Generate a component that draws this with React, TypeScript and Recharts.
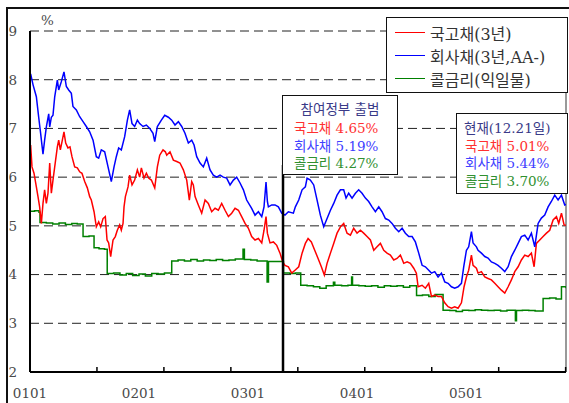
import React from "react";
import { LineChart, Line, XAxis, YAxis, CartesianGrid, ReferenceLine } from "recharts";

// x = months since Jan 2001 (axis position), y = rate in %
const yearLabels = ["0101", "0201", "0301", "0401", "0501"];
const yearTicks = [0, 12, 24, 36, 48];
const minorTicks = [0, 7.37, 14.74, 22.11, 29.48, 36.85, 44.22, 51.59, 58.96];
const yTicks = [2, 3, 4, 5, 6, 7, 8, 9];
const inauguration = 27.85;

const seriesNames = ["국고채(3년)", "회사채(3년,AA-)", "콜금리(익일물)"];
const seriesColors = ["#ff0000", "#0000ff", "#008000"];

const boxInaugTitle = "참여정부 출범";
const boxInaugRows = ["국고채 4.65%", "회사채 5.19%", "콜금리 4.27%"];
const boxNowTitle = "현재(12.21일)";
const boxNowRows = ["국고채 5.01%", "회사채 5.44%", "콜금리 3.70%"];
const textColors = ["#ff3030", "#4040ff", "#309030"];

const govBond: [number, number][] = [
  [0.07, 6.66], [0.22, 6.21], [0.44, 6.08], [0.7, 5.8], [0.88, 5.6], [1.06, 5.39], [1.25, 5.05], [1.43, 5.46],
  [1.61, 5.74], [1.8, 5.46], [1.98, 5.67], [2.17, 6.29], [2.35, 5.67], [2.53, 5.94], [2.72, 6.21], [3.01, 6.62],
  [3.16, 6.76], [3.34, 6.56], [3.56, 6.76], [3.74, 6.93], [3.93, 6.7], [4.18, 6.6], [4.4, 6.62], [4.62, 6.42],
  [4.92, 6.21], [5.21, 6.19], [5.47, 6.11], [5.72, 6.08], [6.02, 5.91], [6.31, 5.78], [6.57, 5.6], [6.75, 5.53],
  [7.05, 5.29], [7.3, 4.98], [7.56, 5.08], [7.78, 4.98], [8.04, 5.15], [8.29, 5.19], [8.48, 4.71], [8.66, 4.65],
  [8.88, 4.37], [9.14, 4.71], [9.39, 4.78], [9.61, 4.91], [9.87, 5.02], [10.05, 4.91], [10.24, 5.05], [10.35, 5.39],
  [10.5, 5.6], [10.79, 5.8], [10.97, 6.04], [11.23, 5.84], [11.52, 5.94], [11.82, 6.15], [12.07, 6.0], [12.26, 6.19],
  [12.55, 5.98], [12.81, 6.08], [13.06, 5.98], [13.36, 5.94], [13.73, 5.78], [14.02, 6.21], [14.28, 6.45], [14.64, 6.56],
  [14.9, 6.52], [15.05, 6.45], [15.41, 6.52], [15.78, 6.35], [16.15, 6.32], [16.51, 6.29], [16.88, 6.15], [17.25, 5.94],
  [17.54, 5.53], [17.8, 5.91], [17.98, 5.84], [18.17, 5.6], [18.53, 5.43], [18.9, 5.26], [19.27, 5.53], [19.63, 5.46],
  [20.0, 5.29], [20.37, 5.36], [20.73, 5.32], [21.1, 5.46], [21.47, 5.32], [21.84, 5.19], [22.2, 5.26], [22.57, 5.36],
  [22.94, 5.32], [23.3, 5.19], [23.67, 5.05], [24.04, 4.95], [24.4, 4.78], [24.77, 4.71], [25.14, 4.74], [25.51, 4.65],
  [25.76, 4.91], [25.98, 5.19], [26.13, 4.85], [26.42, 4.65], [26.79, 4.67], [27.16, 4.6], [27.52, 4.44], [27.82, 4.26],
  [28.07, 4.19], [28.44, 4.16], [28.81, 4.03], [29.17, 4.09], [29.58, 4.16], [29.95, 4.44], [30.31, 4.64], [30.61, 4.74],
  [30.97, 4.67], [31.34, 4.5], [31.71, 4.33], [32.07, 4.16], [32.4, 3.99], [32.7, 4.23], [33.07, 4.44], [33.43, 4.64],
  [33.8, 4.85], [34.17, 4.98], [34.53, 5.05], [34.9, 4.85], [35.27, 4.81], [35.63, 4.95], [36.0, 4.85], [36.37, 4.91],
  [36.73, 4.85], [37.1, 4.78], [37.47, 4.71], [37.84, 4.5], [38.2, 4.57], [38.57, 4.64], [38.94, 4.5], [39.3, 4.44],
  [39.67, 4.4], [40.04, 4.3], [40.4, 4.33], [40.77, 4.4], [41.14, 4.23], [41.51, 4.26], [41.87, 4.23], [42.24, 4.13],
  [42.53, 4.03], [42.72, 3.75], [43.16, 3.78], [43.52, 3.72], [43.89, 3.82], [44.19, 3.55], [44.55, 3.58], [44.92, 3.55],
  [45.29, 3.55], [45.65, 3.42], [46.02, 3.34], [46.39, 3.31], [46.75, 3.34], [47.12, 3.31], [47.49, 3.42], [47.78, 3.75],
  [48.04, 3.95], [48.29, 4.09], [48.59, 4.4], [48.77, 4.19], [49.14, 4.13], [49.32, 4.03], [49.69, 4.06], [50.06, 3.95],
  [50.42, 3.92], [50.79, 3.89], [51.16, 3.82], [51.52, 3.75], [51.89, 3.68], [52.26, 3.62], [52.63, 3.75], [52.99, 3.89],
  [53.36, 4.06], [53.73, 4.16], [54.09, 4.3], [54.46, 4.4], [54.83, 4.37], [55.19, 4.44], [55.49, 4.16], [55.74, 4.64],
  [56.11, 4.71], [56.48, 4.78], [56.85, 4.85], [57.21, 4.91], [57.58, 5.12], [57.95, 5.19], [58.2, 5.05], [58.5, 5.26],
  [58.79, 5.02], [59.0, 5.01],
];

const corpBond: [number, number][] = [
  [0.07, 8.12], [0.33, 7.9], [0.7, 7.65], [0.95, 7.24], [1.17, 6.9], [1.43, 6.47], [1.61, 6.76], [1.8, 7.03],
  [2.06, 7.3], [2.17, 7.03], [2.35, 7.23], [2.53, 7.27], [2.72, 7.65], [3.01, 7.99], [3.16, 7.79], [3.45, 7.96],
  [3.74, 8.16], [4.0, 7.86], [4.26, 7.79], [4.55, 7.72], [4.73, 7.45], [5.1, 7.38], [5.47, 7.24], [5.84, 7.14],
  [6.2, 7.04], [6.57, 6.93], [6.94, 6.76], [7.3, 6.42], [7.56, 6.39], [7.85, 6.56], [8.22, 6.52], [8.59, 6.21],
  [8.95, 5.91], [9.25, 6.21], [9.5, 6.42], [9.76, 6.6], [10.05, 6.56], [10.42, 6.83], [10.72, 7.17], [10.97, 7.38],
  [11.23, 7.1], [11.52, 7.04], [11.82, 7.17], [12.07, 7.1], [12.44, 7.04], [12.81, 7.07], [13.18, 7.0], [13.54, 6.9],
  [13.73, 6.73], [14.02, 7.04], [14.46, 7.17], [14.83, 7.27], [15.23, 7.23], [15.6, 7.17], [15.96, 7.07], [16.33, 7.14],
  [16.7, 7.04], [17.06, 6.9], [17.43, 6.7], [17.8, 6.76], [18.06, 6.66], [18.35, 6.42], [18.72, 6.29], [19.08, 6.21],
  [19.45, 6.39], [19.82, 6.15], [20.18, 6.04], [20.55, 6.0], [20.92, 6.04], [21.28, 6.0], [21.65, 5.98], [22.02, 5.84],
  [22.39, 5.94], [22.75, 6.0], [23.12, 5.88], [23.49, 5.74], [23.85, 5.53], [24.4, 5.36], [24.77, 5.22], [25.14, 5.29],
  [25.51, 5.19], [25.76, 5.39], [25.98, 5.9], [26.13, 5.5], [26.24, 5.39], [26.61, 5.43], [26.97, 5.43], [27.34, 5.39],
  [27.71, 5.26], [28.07, 5.22], [28.44, 5.29], [28.99, 5.26], [29.21, 5.39], [29.58, 5.53], [29.95, 5.74], [30.31, 5.8],
  [30.5, 5.98], [30.86, 5.94], [31.23, 5.84], [31.6, 5.53], [31.96, 5.22], [32.33, 4.98], [32.7, 5.15], [33.07, 5.32],
  [33.43, 5.46], [33.8, 5.63], [34.17, 5.74], [34.53, 5.74], [34.79, 5.57], [35.08, 5.67], [35.45, 5.57], [35.82, 5.67],
  [36.18, 5.74], [36.55, 5.67], [36.92, 5.57], [37.28, 5.5], [37.65, 5.39], [38.02, 5.29], [38.39, 5.39], [38.75, 5.29],
  [39.12, 5.15], [39.49, 5.12], [39.85, 5.05], [40.22, 4.95], [40.59, 4.88], [40.96, 4.95], [41.32, 4.85], [41.69, 4.78],
  [42.06, 4.78], [42.42, 4.67], [42.79, 4.44], [43.16, 4.19], [43.52, 4.16], [43.89, 4.09], [44.19, 4.03], [44.55, 4.06],
  [44.92, 3.95], [45.29, 4.03], [45.65, 3.85], [46.02, 3.82], [46.39, 3.75], [46.75, 3.72], [47.12, 3.75], [47.49, 3.82],
  [47.74, 4.16], [48.04, 4.5], [48.29, 4.57], [48.59, 4.88], [48.77, 4.65], [49.14, 4.57], [49.32, 4.5], [49.69, 4.44],
  [50.06, 4.37], [50.42, 4.34], [50.79, 4.26], [51.16, 4.23], [51.52, 4.19], [51.89, 4.13], [52.26, 4.06], [52.63, 4.16],
  [52.99, 4.37], [53.36, 4.5], [53.73, 4.64], [54.09, 4.78], [54.46, 4.81], [54.83, 4.71], [55.19, 4.85], [55.56, 4.57],
  [55.93, 5.05], [56.29, 5.16], [56.66, 5.22], [57.03, 5.39], [57.39, 5.5], [57.76, 5.63], [58.13, 5.53], [58.5, 5.63],
  [58.86, 5.43], [59.0, 5.44],
];

const callRate: [number, number][] = [
  [0.07, 5.3], [0.5, 5.31], [0.99, 5.28], [1.1, 5.07], [1.8, 5.06], [2.5, 5.04], [3.2, 5.06], [3.9, 5.03],
  [4.6, 5.05], [5.2, 5.04], [5.84, 4.78], [6.5, 4.79], [7.05, 4.55], [7.6, 4.53], [8.2, 4.52], [8.5, 4.02],
  [9.2, 4.03], [9.9, 3.99], [10.6, 4.02], [11.3, 3.98], [12.0, 4.01], [12.7, 3.97], [13.4, 4.02], [14.1, 4.01],
  [14.8, 4.03], [15.6, 4.28], [16.3, 4.3], [17.0, 4.28], [17.7, 4.31], [18.4, 4.28], [19.1, 4.3], [19.8, 4.29],
  [20.5, 4.31], [21.2, 4.29], [21.9, 4.3], [22.6, 4.32], [23.45, 4.52], [23.6, 4.31], [24.3, 4.3], [25.0, 4.28],
  [25.7, 4.28], [26.1, 3.85], [26.25, 4.27], [27.0, 4.27], [27.9, 4.03], [28.6, 4.02], [29.2, 4.03], [29.8, 3.78],
  [30.5, 3.77], [31.2, 3.75], [31.9, 3.72], [32.6, 3.77], [33.4, 3.84], [33.55, 3.78], [34.3, 3.77], [35.0, 3.78],
  [35.4, 3.95], [35.5, 3.78], [36.2, 3.77], [36.9, 3.76], [37.6, 3.77], [38.3, 3.74], [39.0, 3.77], [39.7, 3.76],
  [40.4, 3.77], [41.1, 3.74], [41.8, 3.77], [42.55, 3.57], [43.2, 3.58], [43.9, 3.55], [44.6, 3.59], [45.47, 3.27],
  [46.2, 3.26], [46.9, 3.24], [47.6, 3.27], [48.3, 3.26], [49.0, 3.28], [49.7, 3.27], [50.4, 3.26], [51.1, 3.27],
  [51.8, 3.25], [52.5, 3.27], [53.43, 3.05], [53.55, 3.26], [54.2, 3.27], [54.9, 3.26], [55.6, 3.25], [56.48, 3.51],
  [57.2, 3.52], [57.9, 3.5], [58.5, 3.75], [59.0, 3.72],
];

const toRows = (pairs: [number, number][]) => pairs.map(([t, v]) => ({ t, v }));
const allXTicks = Array.from(new Set([...minorTicks, ...yearTicks])).sort((a, b) => a - b);

const FONT = "'DejaVu Serif', 'Noto Sans CJK KR', serif";

const XTick = (props: any) => {
  const { x, y, payload } = props;
  const v = payload.value;
  const idx = yearTicks.indexOf(v);
  const isMinor = minorTicks.includes(v);
  return (
    <g>
      {isMinor && <line x1={x} x2={x} y1={y - 16} y2={y - 21} stroke="#000" strokeWidth={1.5} />}
      {idx >= 0 && (
        <text x={x} y={y} dy="0.71em" textAnchor="middle" fontFamily={FONT} fontSize={13.5} fill="#4a4a4a">
          {yearLabels[idx]}
        </text>
      )}
    </g>
  );
};

const boxStyle: React.CSSProperties = {
  position: "absolute",
  background: "#fff",
  border: "1.5px solid #111",
  boxSizing: "border-box",
};

export default function App() {
  return (
    <div style={{ position: "fixed", left: 0, top: 0, width: 569, height: 403, overflow: "hidden", background: "#fff" }}>
      <div style={{ position: "absolute", left: 6, top: 7, width: 700, height: 500, borderLeft: "2px solid #111", borderTop: "2px solid #111" }} />
      <div style={{ position: "absolute", left: 0, top: 0 }}>
        <LineChart width={569} height={403} margin={{ top: 31, right: 3, bottom: 0, left: 0 }}>
          <CartesianGrid xAxisId="main" horizontal vertical={false} stroke="#222" strokeDasharray="9 5" />
          <XAxis
            xAxisId="main"
            dataKey="t"
            type="number"
            domain={[0, 59]}
            ticks={allXTicks}
            interval={0}
            allowDataOverflow
            height={31}
            tickSize={0}
            tickMargin={16}
            tickLine={false}
            axisLine={{ stroke: "#000", strokeWidth: 2 }}
            tick={<XTick />}
          />
          <YAxis
            type="number"
            domain={[2, 9]}
            ticks={yTicks}
            interval={0}
            width={30}
            tickSize={0}
            tickMargin={13}
            tickLine={false}
            axisLine={{ stroke: "#000", strokeWidth: 2 }}
            tick={{ fontFamily: FONT, fontSize: 13.5, fill: "#4a4a4a" }}
          />
          <ReferenceLine xAxisId="main" x={59} stroke="#777" strokeWidth={1.5} />
          <Line xAxisId="main" data={toRows(callRate)} dataKey="v" type="stepAfter" stroke={seriesColors[2]} strokeWidth={1.5} dot={false} isAnimationActive={false} />
          <Line xAxisId="main" data={toRows(govBond)} dataKey="v" type="linear" stroke={seriesColors[0]} strokeWidth={1.5} dot={false} isAnimationActive={false} />
          <Line xAxisId="main" data={toRows(corpBond)} dataKey="v" type="linear" stroke={seriesColors[1]} strokeWidth={1.5} dot={false} isAnimationActive={false} />
          <ReferenceLine
            xAxisId="main"
            segment={[{ x: inauguration, y: 2 }, { x: inauguration, y: 6.25 }]}
            stroke="#000"
            strokeWidth={2.5}
          />
        </LineChart>
      </div>

      <div style={{ position: "absolute", left: 41, top: 12, fontFamily: FONT, fontSize: 13.5, color: "#4a4a4a" }}>%</div>

      {/* legend */}
      <div style={{ ...boxStyle, left: 386, top: 17, width: 182, height: 76 }}>
        {seriesNames.map((name, i) => (
          <div key={name} style={{ position: "absolute", left: 0, top: 3 + i * 23, height: 23, display: "flex", alignItems: "center" }}>
            <div style={{ marginLeft: 8, width: 30, height: 1.5, background: seriesColors[i] }} />
            <span style={{ marginLeft: 5, fontFamily: FONT, fontSize: 16, color: "#333", whiteSpace: "nowrap" }}>{name}</span>
          </div>
        ))}
      </div>

      {/* inauguration box */}
      <div style={{ ...boxStyle, left: 282, top: 95, width: 116, height: 80 }}>
        <div style={{ position: "absolute", left: 0, width: "100%", top: 2, textAlign: "center", fontFamily: FONT, fontSize: 13.5, color: "#3a3a88", whiteSpace: "nowrap" }}>{boxInaugTitle}</div>
        {boxInaugRows.map((r, i) => (
          <div key={r} style={{ position: "absolute", left: 11, top: 21 + i * 17.5, fontFamily: FONT, fontSize: 13.5, color: textColors[i], whiteSpace: "nowrap" }}>{r}</div>
        ))}
      </div>

      {/* now box */}
      <div style={{ ...boxStyle, left: 456, top: 113, width: 112, height: 81 }}>
        <div style={{ position: "absolute", left: 7, top: 3, fontFamily: FONT, fontSize: 13.5, color: "#3a3a88", whiteSpace: "nowrap" }}>{boxNowTitle}</div>
        {boxNowRows.map((r, i) => (
          <div key={r} style={{ position: "absolute", left: 8, top: 20.5 + i * 17.5, fontFamily: FONT, fontSize: 13.5, color: textColors[i], whiteSpace: "nowrap" }}>{r}</div>
        ))}
      </div>
    </div>
  );
}
